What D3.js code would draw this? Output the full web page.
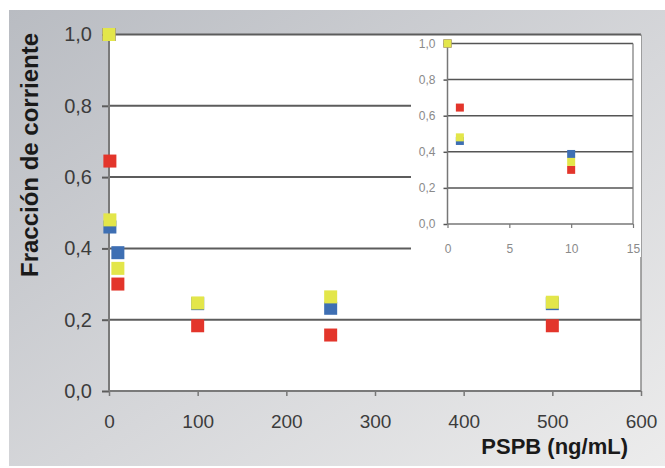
<!DOCTYPE html>
<html>
<head>
<meta charset="utf-8">
<script src="https://cdn.jsdelivr.net/npm/d3@7"></script>
<style>
  html, body { margin: 0; padding: 0; background: #fff; }
  svg { display: block; }
  .domain { display: none; }
</style>
</head>
<body>
<script>
  // PSPB concentration (ng/mL) and current fraction for each series
  const concentrations = [0, 1, 10, 100, 250, 500];
  const redValues = [1.0, 0.645, 0.30, 0.183, 0.157, 0.183];
  const blueValues = [1.0, 0.46, 0.388, 0.245, 0.232, 0.245];
  const yellowValues = [1.0, 0.48, 0.344, 0.247, 0.264, 0.249];

  const seriesColors = ["#e3352b", "#3e6fb3", "#e3e64a"];
  const seriesValues = [redValues, blueValues, yellowValues];

  const mainXTicks = [0, 100, 200, 300, 400, 500, 600];
  const yTicks = [0, 0.2, 0.4, 0.6, 0.8, 1.0];
  const insetXTicks = [0, 5, 10, 15];

  const width = 665, height = 468;
  const fmt = d => d3.format(".1f")(d).replace(".", ",");

  const svg = d3.select("body").append("svg")
    .attr("width", width)
    .attr("height", height);

  // background gradient panel
  const grad = svg.append("defs").append("linearGradient")
    .attr("id", "bg")
    .attr("x1", "0").attr("y1", "0").attr("x2", "1").attr("y2", "1");
  grad.append("stop").attr("offset", "0").attr("stop-color", "#b9bcc2");
  grad.append("stop").attr("offset", "0.55").attr("stop-color", "#d6d7da");
  grad.append("stop").attr("offset", "1").attr("stop-color", "#ececec");

  svg.append("rect").attr("width", width).attr("height", height).attr("fill", "#fff");
  svg.append("rect")
    .attr("x", 9).attr("y", 10)
    .attr("width", width - 9).attr("height", height - 12)
    .attr("fill", "url(#bg)");

  // main chart
  const x = d3.scaleLinear().domain([0, 600]).range([109, 641]);
  const y = d3.scaleLinear().domain([0, 1]).range([391, 34.5]);

  svg.append("rect")
    .attr("x", x(0)).attr("y", y(1))
    .attr("width", x(600) - x(0)).attr("height", y(0) - y(1))
    .attr("fill", "#fff");

  svg.append("g").selectAll("line")
    .data(yTicks.filter(d => d > 0))
    .join("line")
    .attr("x1", x(0)).attr("x2", x(600))
    .attr("y1", d => y(d)).attr("y2", d => y(d))
    .attr("stroke", "#5c5c5c")
    .attr("stroke-width", 2);

  svg.append("line")
    .attr("x1", x(600)).attr("x2", x(600))
    .attr("y1", y(0)).attr("y2", y(1))
    .attr("stroke", "#8a8a8a").attr("stroke-width", 1.5);

  const yAxis = svg.append("g")
    .attr("transform", `translate(${x(0)},0)`)
    .call(d3.axisLeft(y).tickValues(yTicks).tickFormat(fmt).tickSize(7).tickPadding(10));
  yAxis.selectAll(".tick line").attr("stroke", "#5c5c5c").attr("stroke-width", 2);
  yAxis.selectAll("text")
    .attr("font-family", "Liberation Sans, Arial, sans-serif")
    .attr("font-size", 20).attr("fill", "#3c3c3c");

  const xAxis = svg.append("g")
    .attr("transform", `translate(0,${y(0)})`)
    .call(d3.axisBottom(x).tickValues(mainXTicks).tickSize(5).tickPadding(19));
  xAxis.selectAll(".tick line").attr("stroke", "#777").attr("stroke-width", 1.5);
  xAxis.selectAll("text")
    .attr("font-family", "Liberation Sans, Arial, sans-serif")
    .attr("font-size", 19).attr("fill", "#3c3c3c");

  svg.append("line")
    .attr("x1", x(0)).attr("x2", x(0))
    .attr("y1", y(0)).attr("y2", y(1))
    .attr("stroke", "#7a7a7a").attr("stroke-width", 2);
  svg.append("line")
    .attr("x1", x(0)).attr("x2", x(600))
    .attr("y1", y(0)).attr("y2", y(0))
    .attr("stroke", "#7a7a7a").attr("stroke-width", 2);

  const mainSize = 13;
  seriesValues.forEach((vals, i) => {
    svg.append("g").selectAll("rect")
      .data(concentrations.map((c, j) => ({ c: c, v: vals[j] })))
      .join("rect")
      .attr("x", d => x(d.c) - mainSize / 2)
      .attr("y", d => y(d.v) - mainSize / 2)
      .attr("width", mainSize).attr("height", mainSize)
      .attr("fill", seriesColors[i]);
  });

  // axis titles
  svg.append("text")
    .attr("transform", "translate(38,155) rotate(-90)")
    .attr("text-anchor", "middle")
    .attr("font-family", "Liberation Sans, Arial, sans-serif")
    .attr("font-weight", "bold")
    .attr("font-size", 24)
    .attr("fill", "#1a1a1a")
    .text("Fracción de corriente");

  svg.append("text")
    .attr("x", 628).attr("y", 454)
    .attr("text-anchor", "end")
    .attr("font-family", "Liberation Sans, Arial, sans-serif")
    .attr("font-weight", "bold")
    .attr("font-size", 22)
    .attr("fill", "#1a1a1a")
    .text("PSPB (ng/mL)");

  // inset (zoom on low concentrations)
  const ix = d3.scaleLinear().domain([0, 15]).range([447.5, 633]);
  const iy = d3.scaleLinear().domain([0, 1]).range([224, 43.5]);

  svg.append("rect")
    .attr("x", 411).attr("y", 36)
    .attr("width", 230).attr("height", 221)
    .attr("fill", "#fff");

  svg.append("g").selectAll("line")
    .data(yTicks.filter(d => d > 0))
    .join("line")
    .attr("x1", ix(0)).attr("x2", ix(15))
    .attr("y1", d => iy(d)).attr("y2", d => iy(d))
    .attr("stroke", "#555")
    .attr("stroke-width", 1.5);

  svg.append("line")
    .attr("x1", ix(15)).attr("x2", ix(15))
    .attr("y1", iy(0)).attr("y2", iy(1))
    .attr("stroke", "#777").attr("stroke-width", 1.2);

  const iyAxis = svg.append("g")
    .attr("transform", `translate(${ix(0)},0)`)
    .call(d3.axisLeft(iy).tickValues(yTicks).tickFormat(fmt).tickSize(4).tickPadding(8));
  iyAxis.selectAll(".tick line").attr("stroke", "#555").attr("stroke-width", 1.5);
  iyAxis.selectAll("text")
    .attr("font-family", "Liberation Sans, Arial, sans-serif")
    .attr("font-size", 12).attr("fill", "#8a8a8a");

  const ixAxis = svg.append("g")
    .attr("transform", `translate(0,${iy(0)})`)
    .call(d3.axisBottom(ix).tickValues(insetXTicks).tickSize(4).tickPadding(16));
  ixAxis.selectAll(".tick line").attr("stroke", "#777").attr("stroke-width", 1.2);
  ixAxis.selectAll("text")
    .attr("font-family", "Liberation Sans, Arial, sans-serif")
    .attr("font-size", 12).attr("fill", "#8a8a8a");

  svg.append("line")
    .attr("x1", ix(0)).attr("x2", ix(0))
    .attr("y1", iy(0)).attr("y2", iy(1))
    .attr("stroke", "#777").attr("stroke-width", 1.5);
  svg.append("line")
    .attr("x1", ix(0)).attr("x2", ix(15))
    .attr("y1", iy(0)).attr("y2", iy(0))
    .attr("stroke", "#777").attr("stroke-width", 1.5);

  const insetSize = 8;
  seriesValues.forEach((vals, i) => {
    svg.append("g").selectAll("rect")
      .data(concentrations.map((c, j) => ({ c: c, v: vals[j] })).filter(d => d.c <= 15))
      .join("rect")
      .attr("x", d => ix(d.c) - insetSize / 2)
      .attr("y", d => iy(d.v) - insetSize / 2)
      .attr("width", insetSize).attr("height", insetSize)
      .attr("fill", seriesColors[i]);
  });
</script>
</body>
</html>
